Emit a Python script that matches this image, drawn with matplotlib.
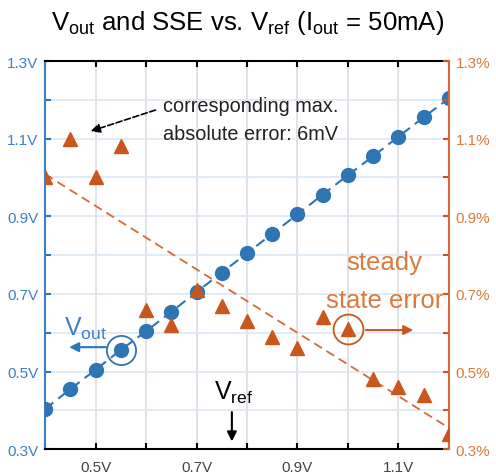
import numpy as np
import matplotlib.pyplot as plt
from matplotlib.ticker import MultipleLocator, FuncFormatter

plt.rcParams['font.family'] = ['Liberation Sans', 'DejaVu Sans']

BLUE = '#2E75B6'
BLUE_TXT = '#3F7FC6'
ORANGE = '#C9561C'
ORANGE_TXT = '#DC7A3C'

# reference voltage sweep (V)
vref = [0.40, 0.45, 0.50, 0.55, 0.60, 0.65, 0.70, 0.75, 0.80,
        0.85, 0.90, 0.95, 1.00, 1.05, 1.10, 1.15, 1.20]
# measured output voltage (V)
vout = [0.404, 0.455, 0.505, 0.556, 0.604, 0.654, 0.705, 0.755, 0.805,
        0.855, 0.905, 0.956, 1.006, 1.055, 1.105, 1.155, 1.204]
# steady state error (%)
sse = [1.00, 1.10, 1.00, 1.08, 0.66, 0.62, 0.71, 0.67, 0.63,
       0.59, 0.56, 0.64, 0.61, 0.48, 0.46, 0.44, 0.34]

fig = plt.figure(figsize=(4.96, 4.77), dpi=100)
ax = fig.add_axes([0.091, 0.056, 0.814, 0.814])
ax2 = ax.twinx()

# Vout
ax.plot(vref, vout, '--', color=BLUE, lw=1.5, dashes=(5, 3), zorder=3)
ax.plot(vref, vout, 'o', color=BLUE, ms=10, zorder=4)

# SSE + linear trend
ax2.plot(vref, sse, '^', color=ORANGE, ms=10, zorder=4)
k, b = np.polyfit(vref, sse, 1)
xs = np.array([vref[0], vref[-1]])
ax2.plot(xs, k * xs + b, '--', color='#D46A35', lw=1.3, dashes=(5, 3), zorder=3)

ax.set_xlim(0.4, 1.2)
ax.set_ylim(0.3, 1.3)
ax2.set_ylim(0.3, 1.3)

for a in (ax, ax2):
    a.yaxis.set_major_locator(MultipleLocator(0.1))
ax.xaxis.set_major_locator(MultipleLocator(0.1))

odd = lambda v: round(v * 10) % 2 == 1
ax.xaxis.set_major_formatter(FuncFormatter(lambda v, p: f'{v:.1f}V' if odd(v) else ''))
ax.yaxis.set_major_formatter(FuncFormatter(lambda v, p: f'{v:.1f}V' if odd(v) else ''))
ax2.yaxis.set_major_formatter(FuncFormatter(lambda v, p: f'{v:.1f}%' if odd(v) else ''))

ax.grid(axis='y', color='#DCE8F4', lw=1.2)
ax.grid(axis='x', color='#DADDE2', lw=1.2)
ax.set_axisbelow(True)

ax.tick_params(axis='x', direction='in', length=4, width=1.5, top=True, pad=8,
               labelsize=11, color='black', labelcolor='#444444')
ax.tick_params(axis='y', direction='in', length=4, width=1.5, right=False, pad=5,
               labelsize=11, color=BLUE, labelcolor=BLUE_TXT)
ax2.tick_params(axis='y', direction='in', length=4, width=1.5, pad=5,
                labelsize=11, color=ORANGE, labelcolor=ORANGE_TXT)

ax.spines['left'].set_color(BLUE_TXT)
ax.spines['right'].set_visible(False)
for s in ('top', 'bottom'):
    ax.spines[s].set_color('black')
for s in ('left', 'top', 'bottom'):
    ax2.spines[s].set_visible(False)
ax2.spines['right'].set_color('#D46A35')
for a in (ax, ax2):
    for s in a.spines.values():
        s.set_linewidth(1.5)

fig.text(0.499, 1 - 30 / 477,
         r'V$_{\mathregular{out}}$ and SSE vs. V$_{\mathregular{ref}}$ (I$_{\mathregular{out}}$ = 50mA)',
         ha='center', va='baseline', fontsize=18.5)

# max error note
ax.text(0.634, 1.171, 'corresponding max.', ha='left', va='baseline', fontsize=14.3,
        color='#222222')
ax.text(0.634, 1.099, 'absolute error: 6mV', ha='left', va='baseline', fontsize=14.3,
        color='#222222')
ax.annotate('', xy=(0.485, 1.117), xytext=(0.624, 1.176),
            arrowprops=dict(arrowstyle='-|>', color='black', lw=1.2, ls='--', mutation_scale=14))

# Vout label
ax.plot([vref[3]], [vout[3]], 'o', ms=21, mfc='none', mec=BLUE, mew=1.3, zorder=5)
ax.annotate('', xy=(0.442, 0.563), xytext=(0.527, 0.563),
            arrowprops=dict(arrowstyle='-|>', color=BLUE, lw=1.5, mutation_scale=14))
ax.text(0.438, 0.596, r'V$_{\mathregular{out}}$', color=BLUE_TXT, fontsize=18,
        va='baseline')

# SSE label
ax2.plot([vref[12]], [sse[12]], 'o', ms=21.5, mfc='none', mec=ORANGE, mew=1.3, zorder=5)
ax2.annotate('', xy=(1.135, 0.607), xytext=(1.03, 0.607),
             arrowprops=dict(arrowstyle='-|>', color=ORANGE, lw=1.5, mutation_scale=14))
ax2.text(1.073, 0.764, 'steady', color=ORANGE_TXT, fontsize=18.5, ha='center', va='baseline')
ax2.text(1.073, 0.666, 'state error', color=ORANGE_TXT, fontsize=18.5, ha='center', va='baseline')

# Vref label
ax.text(0.735, 0.431, r'V$_{\mathregular{ref}}$', color='black', fontsize=18,
        va='baseline')
ax.annotate('', xy=(0.770, 0.313), xytext=(0.770, 0.403),
            arrowprops=dict(arrowstyle='-|>', color='black', lw=1.5, mutation_scale=14))

fig.savefig('out.png', dpi=100)
